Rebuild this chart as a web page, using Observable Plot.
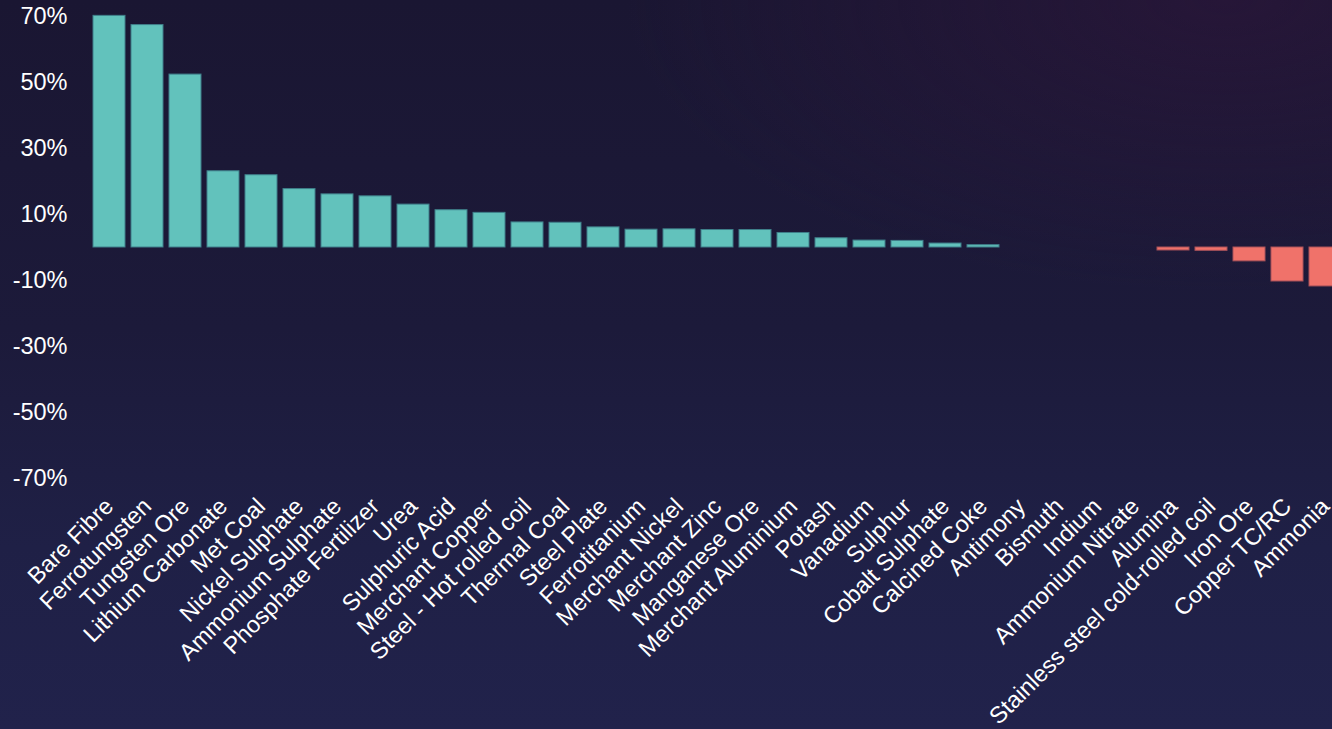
<!DOCTYPE html>
<html>
<head>
<meta charset="utf-8">
<script src="https://cdn.jsdelivr.net/npm/d3@7"></script>
<script src="https://cdn.jsdelivr.net/npm/@observablehq/plot@0.6"></script>
<style>
  html, body { margin: 0; padding: 0; width: 1332px; height: 729px; overflow: hidden; }
  body {
    background:
      radial-gradient(ellipse 45% 40% at 92% 0%, rgba(48,22,60,0.55), rgba(48,22,60,0) 100%),
      linear-gradient(180deg, #1a1632 0%, #1c1a3a 45%, #1f2046 75%, #21224b 100%);
  }
  #chart { position: absolute; left: 0; top: 0; width: 1349px; }
  #chart svg { max-width: none !important; }
</style>
</head>
<body>
<div id="chart"></div>
<script>
const commodities = [
  "Bare Fibre", "Ferrotungsten", "Tungsten Ore", "Lithium Carbonate", "Met Coal",
  "Nickel Sulphate", "Ammonium Sulphate", "Phosphate Fertilizer", "Urea", "Sulphuric Acid",
  "Merchant Copper", "Steel - Hot rolled coil", "Thermal Coal", "Steel Plate", "Ferrotitanium",
  "Merchant Nickel", "Merchant Zinc", "Manganese Ore", "Merchant Aluminium", "Potash",
  "Vanadium", "Sulphur", "Cobalt Sulphate", "Calcined Coke", "Antimony",
  "Bismuth", "Indium", "Ammonium Nitrate", "Alumina", "Stainless steel cold-rolled coil",
  "Iron Ore", "Copper TC/RC", "Ammonia"
];
const changes = [
  70.2, 67.4, 52.4, 23.1, 21.9,
  17.7, 16.1, 15.5, 13.0, 11.3,
  10.5, 7.6, 7.5, 6.1, 5.4,
  5.5, 5.3, 5.3, 4.4, 2.8,
  2.1, 2.0, 1.2, 0.7, 0,
  0, 0, 0, -0.9, -1.0,
  -4.2, -10.3, -11.8
];
const yTicks = [-70, -50, -30, -10, 10, 30, 50, 70];

const data = commodities.map((name, i) => ({name, value: changes[i]}));

const chart = Plot.plot({
  width: 1349,
  height: 729,
  marginTop: 16,
  marginBottom: 251,
  marginLeft: 86,
  marginRight: 0,
  style: {
    fontFamily: "'Liberation Sans', Arial, sans-serif",
    fontSize: "23.5px",
    color: "#ffffff",
    background: "transparent",
    overflow: "visible",
    maxWidth: "none"
  },
  x: {domain: commodities, padding: 0.15, label: null},
  y: {domain: [-70, 70], label: null},
  marks: [
    Plot.barY(data, {
      x: "name",
      y: "value",
      fill: d => d.value >= 0 ? "#62c2bc" : "#f0726a",
      stroke: d => d.value >= 0 ? "#3f7f8a" : "#a9525a",
      strokeWidth: 1
    }),
    Plot.axisY({ticks: yTicks, tickFormat: d => d + "%", tickSize: 0, tickPadding: 19, label: null, fill: "#ffffff"}),
    Plot.axisX({tickRotate: -45, tickSize: 0, tickPadding: 24, label: null, fill: "#ffffff"})
  ]
});
document.getElementById("chart").appendChild(chart);
</script>
</body>
</html>
